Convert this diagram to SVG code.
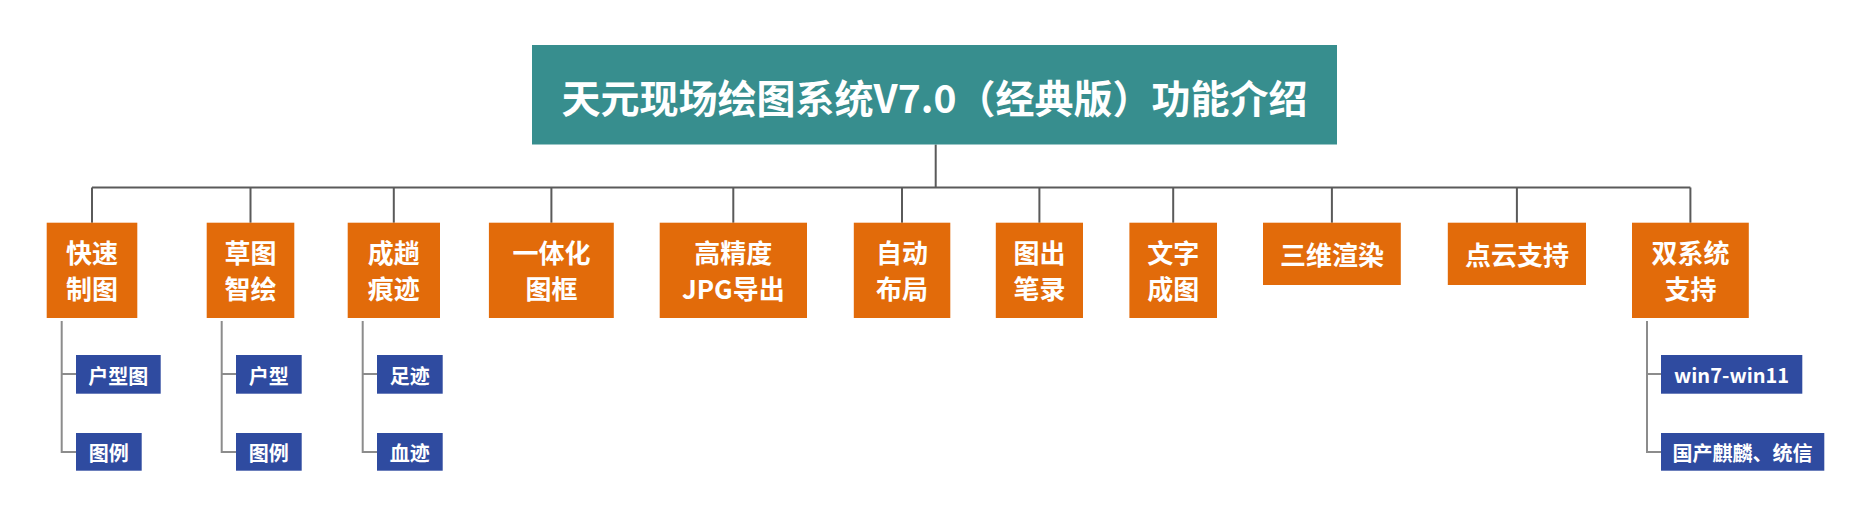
<svg xmlns="http://www.w3.org/2000/svg" width="1869" height="516" viewBox="0 0 1869 516">
<style>
  text { font-family: "Noto Sans CJK SC", "Noto Sans", sans-serif; font-weight: bold; fill: #ffffff; text-anchor: middle; }
  .title { font-size: 39px; }
  .main { font-size: 26px; }
  .sub { font-size: 20px; }
  .bx-title { fill: #378E8E; }
  .bx-main { fill: #E26B0A; }
  .bx-sub { fill: #2F4BA0; }
  .c-main { stroke: #5A5A5A; stroke-width: 2; fill: none; }
  .c-sub { stroke: #8C8C8C; stroke-width: 2; fill: none; }
</style>
<rect width="1869" height="516" fill="#ffffff"/>
<g id="connectors">
  <path class="c-main" d="M935.7 144.5V187.5M92 187.5H1690.4M92 187.5V222.7M250.5 187.5V222.7M393.8 187.5V222.7M551.4 187.5V222.7M733.3 187.5V222.7M902 187.5V222.7M1039.4 187.5V222.7M1173.2 187.5V222.7M1331.9 187.5V222.7M1516.9 187.5V222.7M1690.4 187.5V222.7"/>
  <path class="c-sub" d="M61.7 321V452H76M61.7 374H76"/>
  <path class="c-sub" d="M221.7 321V452H236M221.7 374H236"/>
  <path class="c-sub" d="M362.7 321V452H377M362.7 374H377"/>
  <path class="c-sub" d="M1647 321V452H1661M1647 374H1661"/>
</g>
<g id="title">
  <rect class="bx-title" x="532" y="45" width="805" height="99.5"/>
  <text class="title" x="934.5" y="112.5">天元现场绘图系统V7.0（经典版）功能介绍</text>
</g>
<g id="n1">
  <rect class="bx-main" x="46.7" y="222.7" width="90.6" height="95.3"/>
  <text class="main" x="92" y="263.2">快速</text>
  <text class="main" x="92" y="298.9">制图</text>
</g>
<g id="n2">
  <rect class="bx-main" x="206.7" y="222.7" width="87.6" height="95.3"/>
  <text class="main" x="250.5" y="263.2">草图</text>
  <text class="main" x="250.5" y="298.9">智绘</text>
</g>
<g id="n3">
  <rect class="bx-main" x="347.7" y="222.7" width="92.3" height="95.3"/>
  <text class="main" x="393.8" y="263.2">成趟</text>
  <text class="main" x="393.8" y="298.9">痕迹</text>
</g>
<g id="n4">
  <rect class="bx-main" x="488.9" y="222.7" width="124.9" height="95.3"/>
  <text class="main" x="551.4" y="263.2">一体化</text>
  <text class="main" x="551.4" y="298.9">图框</text>
</g>
<g id="n5">
  <rect class="bx-main" x="659.7" y="222.7" width="147.3" height="95.3"/>
  <text class="main" x="733.3" y="263.2">高精度</text>
  <text class="main" x="733.3" y="298.9">JPG导出</text>
</g>
<g id="n6">
  <rect class="bx-main" x="853.8" y="222.7" width="96.5" height="95.3"/>
  <text class="main" x="902" y="263.2">自动</text>
  <text class="main" x="902" y="298.9">布局</text>
</g>
<g id="n7">
  <rect class="bx-main" x="995.8" y="222.7" width="87.2" height="95.3"/>
  <text class="main" x="1039.4" y="263.2">图出</text>
  <text class="main" x="1039.4" y="298.9">笔录</text>
</g>
<g id="n8">
  <rect class="bx-main" x="1129.4" y="222.7" width="87.6" height="95.3"/>
  <text class="main" x="1173.2" y="263.2">文字</text>
  <text class="main" x="1173.2" y="298.9">成图</text>
</g>
<g id="n9">
  <rect class="bx-main" x="1263" y="222.7" width="137.8" height="62.3"/>
  <text class="main" x="1331.9" y="264.9">三维渲染</text>
</g>
<g id="n10">
  <rect class="bx-main" x="1447.8" y="222.7" width="138.2" height="62.3"/>
  <text class="main" x="1516.9" y="264.9">点云支持</text>
</g>
<g id="n11">
  <rect class="bx-main" x="1632" y="222.7" width="116.8" height="95.3"/>
  <text class="main" x="1690.4" y="263.2">双系统</text>
  <text class="main" x="1690.4" y="298.9">支持</text>
</g>
<g id="s1a">
  <rect class="bx-sub" x="76" y="355" width="84.7" height="38.7"/>
  <text class="sub" x="118.3" y="384.3">户型图</text>
</g>
<g id="s1b">
  <rect class="bx-sub" x="76" y="433" width="65.7" height="37.7"/>
  <text class="sub" x="108.8" y="460.9">图例</text>
</g>
<g id="s2a">
  <rect class="bx-sub" x="236" y="355" width="65.7" height="38.7"/>
  <text class="sub" x="268.8" y="384.3">户型</text>
</g>
<g id="s2b">
  <rect class="bx-sub" x="236" y="433" width="65.7" height="37.7"/>
  <text class="sub" x="268.8" y="460.9">图例</text>
</g>
<g id="s3a">
  <rect class="bx-sub" x="377" y="355" width="65.7" height="38.7"/>
  <text class="sub" x="409.8" y="384.3">足迹</text>
</g>
<g id="s3b">
  <rect class="bx-sub" x="377" y="433" width="65.7" height="37.7"/>
  <text class="sub" x="409.8" y="460.9">血迹</text>
</g>
<g id="s11a">
  <rect class="bx-sub" x="1661" y="355" width="141.3" height="38.7"/>
  <text class="sub" x="1731.6" y="382.5">win7-win11</text>
</g>
<g id="s11b">
  <rect class="bx-sub" x="1661" y="433" width="163.3" height="37.7"/>
  <text class="sub" x="1742.6" y="460.9">国产麒麟、统信</text>
</g>
</svg>
